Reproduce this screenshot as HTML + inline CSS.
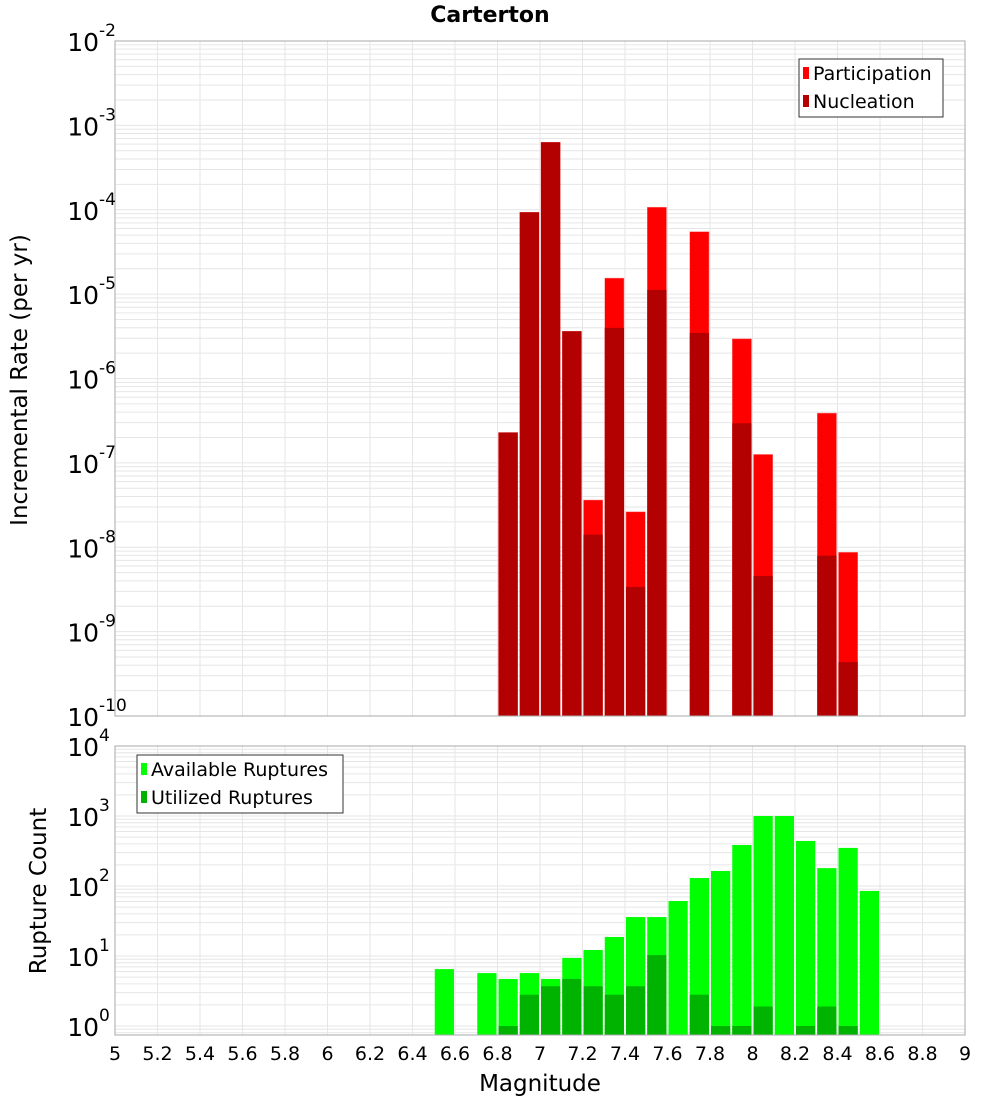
<!DOCTYPE html>
<html><head><meta charset="utf-8"><style>
body{margin:0;background:#fff;font-family:"Liberation Sans","DejaVu Sans",sans-serif}
svg text{font-family:"DejaVu Sans","Liberation Sans",sans-serif}
</style></head><body>
<svg id="c" width="1000" height="1100" xmlns="http://www.w3.org/2000/svg"></svg>
<script>
const bins=[6.55,6.65,6.75,6.85,6.95,7.05,7.15,7.25,7.35,7.45,7.55,7.65,7.75,7.85,7.95,8.05,8.15,8.25,8.35,8.45,8.55];
const partLog=[null,null,null,-6.64,-4.03,-3.20,-5.44,-7.44,-4.81,-7.58,-3.97,null,-4.26,null,-5.53,-6.90,null,null,-6.41,-8.06,null];
const nuclLog=[null,null,null,-6.64,-4.03,-3.20,-5.44,-7.85,-5.40,-8.47,-4.95,null,-5.46,null,-6.53,-8.34,null,null,-8.10,-9.36,null];
const avail=[6.5,0,5.7,4.7,5.7,4.7,9.4,12.2,18.7,36,36,61,130,164,385,1000,1000,440,180,350,85];
const used=[0,0,0,1,2.8,3.7,4.7,3.7,2.8,3.7,10.3,0,2.8,1,1,1.9,0,1,1.9,1,0];
const xTicks=[5,5.2,5.4,5.6,5.8,6,6.2,6.4,6.6,6.8,7,7.2,7.4,7.6,7.8,8,8.2,8.4,8.6,8.8,9];
const topExp=[-2,-3,-4,-5,-6,-7,-8,-9,-10];
const botExp=[4,3,2,1,0];

const NS="http://www.w3.org/2000/svg",svg=document.getElementById('c');
function el(t,a,p){const e=document.createElementNS(NS,t);for(const k in a)e.setAttribute(k,a[k]);(p||svg).appendChild(e);return e;}
const X0=115,X1=965;
const x=v=>X0+(v-5)*(X1-X0)/4;
const T0=41,T1=716;
const yT=l=>T0+(-2-l)*(T1-T0)/8;
const B0=746,B1=1035;
const yB=v=>1026-Math.log10(v)*70;

function frame(top,bot,yfn,lo,hi,name){
  const g=el('g',{});
  
  
  for(let e=lo;e<hi;e++)for(let m=1;m<10;m++){const yy=yfn(e+Math.log10(m));if(yy>=top&&yy<=bot)el('line',{x1:X0,x2:X1,y1:yy,y2:yy,stroke:'#e6e6e6','stroke-width':1},g);}
  xTicks.forEach(t=>el('line',{x1:x(t),x2:x(t),y1:top,y2:bot,stroke:'#e6e6e6'},g));
}
frame(T0,T1,yT,-10,-2,'top');
frame(B0,B1,v=>1026-v*70,-1,4,'bottom');

const bw=(X1-X0)/40;
bins.forEach((b,i)=>{
  if(partLog[i]!==null){const r=el('rect',{x:x(b-0.05)+1,y:yT(partLog[i]),width:bw-2,height:T1-yT(partLog[i]),fill:'#ff0000',stroke:'#ff8080','stroke-width':0.5});
    }
  if(nuclLog[i]!==null){const r=el('rect',{x:x(b-0.05)+1,y:yT(nuclLog[i]),width:bw-2,height:T1-yT(nuclLog[i]),fill:'#b30000'});
    }
  if(avail[i]>0){const r=el('rect',{x:x(b-0.05)+1,y:yB(avail[i]),width:bw-2,height:B1-yB(avail[i]),fill:'#00ff00'});
    }
  if(used[i]>0){const r=el('rect',{x:x(b-0.05)+1,y:yB(used[i]),width:bw-2,height:B1-yB(used[i]),fill:'#00b300'});
    }
});
el('rect',{x:X0,y:T0,width:X1-X0,height:T1-T0,fill:'none',stroke:'#aaa'});
el('rect',{x:X0,y:B0,width:X1-X0,height:B1-B0,fill:'none',stroke:'#aaa'});

function pow(xr,yy,e,name){
  const t=el('text',{x:xr-16,y:yy+10,'font-size':25,'text-anchor':'end',fill:'#000'});t.textContent='10';
  
  const s=el('text',{x:xr-16,y:yy-5,'font-size':17,fill:'#000'});s.textContent=String(e);
}
topExp.forEach(e=>pow(115,yT(e),e,'y-tick-label'));
botExp.forEach(e=>pow(115,1026-e*70,e,'y2-tick-label'));
xTicks.forEach(t=>{const tx=el('text',{x:x(t),y:1060,'font-size':19,'text-anchor':'middle'});tx.textContent=String(t);
  });

let t=el('text',{x:490,y:22,'font-size':22,'font-weight':'bold','text-anchor':'middle'});t.textContent='Carterton';

t=el('text',{x:540,y:1091,'font-size':23,'text-anchor':'middle'});t.textContent='Magnitude';

t=el('text',{x:27,y:380,'font-size':23,'text-anchor':'middle',transform:'rotate(-90 27 380)'});t.textContent='Incremental Rate (per yr)';

t=el('text',{x:46,y:891,'font-size':23,'text-anchor':'middle',transform:'rotate(-90 46 891)'});t.textContent='Rupture Count';


function legend(lx,ly,w,items,name){
  const g=el('g',{});
  el('rect',{x:lx,y:ly,width:w,height:58,fill:'#fff',stroke:'#333'},g);
  items.forEach((it,k)=>{el('rect',{x:lx+4,y:ly+8+k*28,width:6,height:12,fill:it[1]},g);
    const tt=el('text',{x:lx+14,y:ly+21+k*28,'font-size':19},g);tt.textContent=it[0];});
}
legend(799,59,144,[['Participation','#ff0000'],['Nucleation','#b30000']],'legend-top');
legend(137,755,206,[['Available Ruptures','#00ff00'],['Utilized Ruptures','#00b300']],'legend-bottom');
</script>
</body></html>
